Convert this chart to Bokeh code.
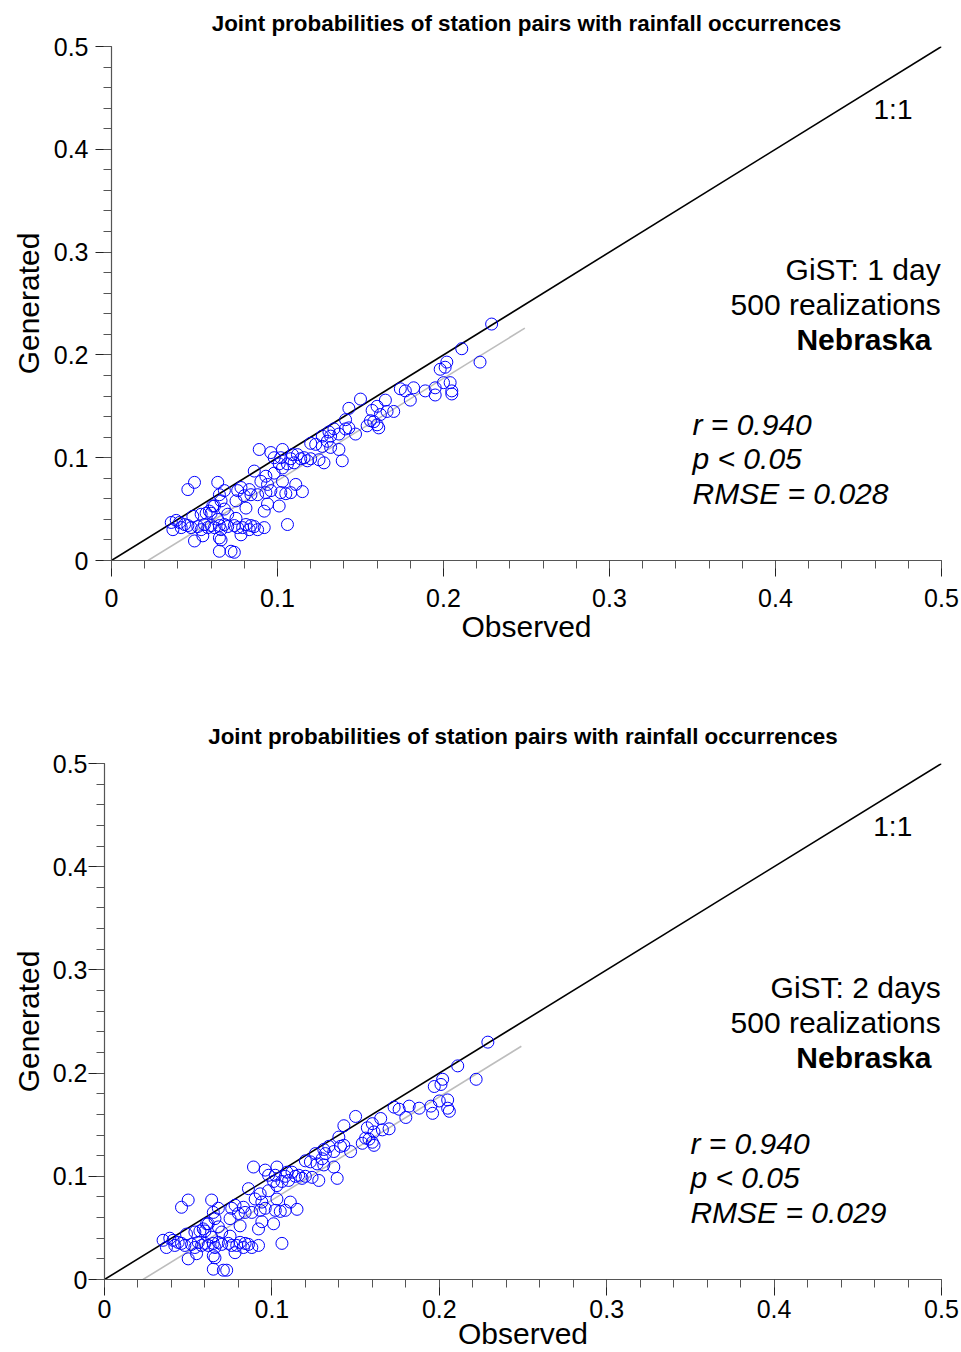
from bokeh.plotting import figure
from bokeh.layouts import column, row
from bokeh.models import Range1d, FixedTicker, CustomJSTickFormatter, Label, ColumnDataSource
from bokeh.embed import file_html
from bokeh.resources import INLINE

# ---- values -------------------------------------------------------------
title_text = "Joint probabilities of station pairs with rainfall occurrences"
major_ticks = [0.0, 0.1, 0.2, 0.3, 0.4, 0.5]
minor_ticks = [round(0.02 * i, 2) for i in range(26)]

# GiST 1 day: observed vs generated joint probabilities
obs_1day = [0.229, 0.211, 0.222, 0.202, 0.201, 0.198, 0.204, 0.205, 0.205, 0.200,
            0.195, 0.195, 0.189, 0.182, 0.180, 0.177, 0.174, 0.150, 0.143, 0.165,
            0.160, 0.157, 0.170, 0.166, 0.162, 0.156, 0.160, 0.161, 0.154, 0.158,
            0.147, 0.141, 0.141, 0.143, 0.134, 0.132, 0.127, 0.123, 0.127, 0.132,
            0.137, 0.130, 0.139, 0.128, 0.125, 0.118, 0.116, 0.112, 0.110, 0.106,
            0.103, 0.102, 0.096, 0.098, 0.089, 0.101, 0.103, 0.086, 0.098, 0.093,
            0.090, 0.094, 0.103, 0.111, 0.115, 0.108, 0.105, 0.102, 0.096, 0.093,
            0.088, 0.084, 0.094, 0.101, 0.092, 0.106, 0.078, 0.076, 0.075, 0.081,
            0.068, 0.064, 0.066, 0.062, 0.059, 0.054, 0.050, 0.046, 0.065, 0.060,
            0.049, 0.057, 0.061, 0.036, 0.039, 0.037, 0.042, 0.041, 0.048, 0.052,
            0.054, 0.058, 0.062, 0.065, 0.066, 0.074, 0.076, 0.079, 0.081, 0.083,
            0.088, 0.092, 0.078, 0.075, 0.065, 0.066, 0.050, 0.055, 0.065, 0.072,
            0.074, 0.044, 0.046, 0.056, 0.060, 0.068, 0.070, 0.084, 0.086, 0.070,
            0.064, 0.068, 0.109, 0.114, 0.120, 0.108, 0.131, 0.137, 0.120, 0.083,
            0.080]
gen_1day = [0.230, 0.206, 0.193, 0.193, 0.188, 0.186, 0.173, 0.165, 0.162, 0.173,
            0.168, 0.161, 0.165, 0.168, 0.156, 0.165, 0.167, 0.157, 0.148, 0.156,
            0.150, 0.146, 0.145, 0.145, 0.142, 0.136, 0.132, 0.129, 0.131, 0.135,
            0.123, 0.137, 0.128, 0.129, 0.128, 0.121, 0.121, 0.113, 0.111, 0.110,
            0.108, 0.116, 0.097, 0.095, 0.098, 0.097, 0.100, 0.103, 0.095, 0.094,
            0.108, 0.100, 0.105, 0.100, 0.108, 0.094, 0.090, 0.087, 0.085, 0.082,
            0.077, 0.074, 0.077, 0.074, 0.067, 0.066, 0.065, 0.066, 0.068, 0.066,
            0.064, 0.064, 0.055, 0.053, 0.048, 0.035, 0.071, 0.068, 0.058, 0.051,
            0.068, 0.076, 0.058, 0.053, 0.048, 0.045, 0.076, 0.069, 0.064, 0.046,
            0.043, 0.046, 0.053, 0.037, 0.039, 0.030, 0.032, 0.037, 0.032, 0.033,
            0.030, 0.032, 0.032, 0.034, 0.030, 0.034, 0.032, 0.032, 0.035, 0.030,
            0.030, 0.032, 0.025, 0.041, 0.022, 0.020, 0.019, 0.024, 0.009, 0.009,
            0.008, 0.035, 0.034, 0.035, 0.034, 0.035, 0.033, 0.034, 0.033, 0.045,
            0.040, 0.050, 0.103, 0.099, 0.099, 0.099, 0.125, 0.123, 0.114, 0.069,
            0.063]

# GiST 2 days: observed vs generated joint probabilities
obs_2day = [0.229, 0.211, 0.222, 0.202, 0.201, 0.197, 0.205, 0.205, 0.206, 0.200,
            0.195, 0.196, 0.188, 0.182, 0.180, 0.176, 0.173, 0.150, 0.143, 0.165,
            0.160, 0.157, 0.170, 0.166, 0.161, 0.156, 0.160, 0.161, 0.154, 0.158,
            0.147, 0.140, 0.141, 0.143, 0.134, 0.132, 0.126, 0.123, 0.127, 0.131,
            0.137, 0.130, 0.139, 0.128, 0.124, 0.118, 0.116, 0.112, 0.110, 0.106,
            0.103, 0.102, 0.096, 0.098, 0.089, 0.101, 0.103, 0.086, 0.098, 0.093,
            0.090, 0.094, 0.103, 0.111, 0.115, 0.108, 0.105, 0.102, 0.096, 0.093,
            0.088, 0.084, 0.094, 0.101, 0.092, 0.106, 0.078, 0.076, 0.075, 0.081,
            0.068, 0.064, 0.066, 0.062, 0.059, 0.054, 0.050, 0.046, 0.065, 0.060,
            0.049, 0.057, 0.061, 0.035, 0.039, 0.037, 0.042, 0.041, 0.048, 0.052,
            0.054, 0.058, 0.062, 0.065, 0.066, 0.074, 0.076, 0.079, 0.081, 0.083,
            0.088, 0.092, 0.078, 0.075, 0.065, 0.066, 0.050, 0.055, 0.065, 0.071,
            0.073, 0.044, 0.046, 0.056, 0.060, 0.068, 0.070, 0.084, 0.086, 0.070,
            0.064, 0.068, 0.109, 0.114, 0.120, 0.108, 0.131, 0.137, 0.120, 0.083,
            0.080]
gen_2day = [0.230, 0.207, 0.194, 0.194, 0.189, 0.187, 0.174, 0.166, 0.163, 0.173,
            0.168, 0.161, 0.166, 0.168, 0.157, 0.165, 0.167, 0.158, 0.149, 0.156,
            0.151, 0.147, 0.146, 0.145, 0.143, 0.137, 0.133, 0.130, 0.132, 0.136,
            0.124, 0.138, 0.129, 0.130, 0.129, 0.122, 0.122, 0.114, 0.112, 0.111,
            0.109, 0.117, 0.098, 0.096, 0.099, 0.098, 0.101, 0.104, 0.096, 0.095,
            0.109, 0.101, 0.106, 0.101, 0.109, 0.095, 0.091, 0.088, 0.086, 0.083,
            0.078, 0.075, 0.078, 0.075, 0.068, 0.067, 0.066, 0.067, 0.069, 0.067,
            0.065, 0.065, 0.056, 0.054, 0.049, 0.035, 0.072, 0.069, 0.059, 0.052,
            0.069, 0.077, 0.059, 0.054, 0.049, 0.046, 0.077, 0.070, 0.065, 0.047,
            0.044, 0.047, 0.054, 0.038, 0.040, 0.031, 0.033, 0.038, 0.033, 0.034,
            0.031, 0.033, 0.033, 0.035, 0.031, 0.035, 0.033, 0.033, 0.036, 0.031,
            0.031, 0.033, 0.026, 0.042, 0.023, 0.021, 0.020, 0.025, 0.010, 0.009,
            0.009, 0.036, 0.035, 0.036, 0.035, 0.036, 0.034, 0.035, 0.034, 0.046,
            0.041, 0.051, 0.104, 0.100, 0.100, 0.100, 0.126, 0.124, 0.115, 0.070,
            0.064]

# least-squares fit line end points (observed, generated)
fit_1day_x = [0.022, 0.249]
fit_1day_y = [0.000, 0.226]
fit_2day_x = [0.023, 0.249]
fit_2day_y = [0.000, 0.226]

# 1:1 reference line
one_to_one = [0.0, 0.5]

panels = [
    dict(obs=obs_1day, gen=gen_1day, fx=fit_1day_x, fy=fit_1day_y,
         label="GiST: 1 day", r="r = 0.940", p="p < 0.05", rmse="RMSE = 0.028"),
    dict(obs=obs_2day, gen=gen_2day, fx=fit_2day_x, fy=fit_2day_y,
         label="GiST: 2 days", r="r = 0.940", p="p < 0.05", rmse="RMSE = 0.029"),
]

FONT = "Liberation Sans"


def make_panel(d, height, left, top, bottom, x_std, x_lab_std, y_std, y_lab_std,
               title_valign, title_standoff):
    p = figure(width=961, height=height, output_backend="svg", toolbar_location=None,
               x_range=Range1d(0, 0.5), y_range=Range1d(0, 0.5),
               min_border_left=left, min_border_right=20,
               min_border_top=top, min_border_bottom=bottom,
               title=title_text)
    p.outline_line_color = None
    p.grid.visible = False
    p.background_fill_color = "white"
    p.border_fill_color = "white"

    p.title.align = "center"
    p.title.text_font = FONT
    p.title.text_font_size = "22.4px"
    p.title.text_font_style = "bold"
    p.title.text_color = "black"
    p.title.vertical_align = title_valign
    p.title.standoff = title_standoff

    fmt = CustomJSTickFormatter(code="return tick == 0 ? '0' : tick.toFixed(1);")
    for ax in (p.xaxis[0], p.yaxis[0]):
        ax.ticker = FixedTicker(ticks=major_ticks, minor_ticks=minor_ticks)
        ax.formatter = fmt
        ax.axis_line_color = "#555555"
        ax.axis_line_width = 1.2
        ax.major_tick_line_color = "#222222"
        ax.minor_tick_line_color = "#555555"
        ax.major_tick_in = 0
        ax.minor_tick_in = 0
        ax.major_tick_out = 16
        ax.minor_tick_out = 8
        ax.major_label_text_font = FONT
        ax.major_label_text_font_size = "25px"
        ax.major_label_text_color = "black"
        ax.axis_label_text_font = FONT
        ax.axis_label_text_font_size = "30px"
        ax.axis_label_text_font_style = "normal"
        ax.axis_label_text_color = "black"
    p.xaxis.axis_label = "Observed"
    p.yaxis.axis_label = "Generated"
    p.xaxis.major_label_standoff = x_std
    p.xaxis.axis_label_standoff = x_lab_std
    p.yaxis.major_label_standoff = y_std
    p.yaxis.axis_label_standoff = y_lab_std

    # 1:1 line and fitted line
    p.line(one_to_one, one_to_one, line_color="black", line_width=1.6)
    p.line(d["fx"], d["fy"], line_color="#BDBDBD", line_width=1.6)

    src = ColumnDataSource(dict(x=d["obs"], y=d["gen"]))
    p.scatter("x", "y", source=src, marker="circle", size=12,
              fill_color=None, line_color="#0000FF", line_width=1)

    p.add_layout(Label(x=0.4825, y=0.439, text="1:1", text_align="right",
                       text_baseline="middle", text_font=FONT,
                       text_font_size="28px", text_color="black"))
    p.add_layout(Label(x=0.4995, y=0.283, text=d["label"], text_align="right",
                       text_baseline="middle", text_font=FONT,
                       text_font_size="30px", text_color="black"))
    p.add_layout(Label(x=0.4995, y=0.249, text="500 realizations", text_align="right",
                       text_baseline="middle", text_font=FONT,
                       text_font_size="30px", text_color="black"))
    p.add_layout(Label(x=0.494, y=0.215, text="Nebraska", text_align="right",
                       text_baseline="middle", text_font=FONT,
                       text_font_size="30px", text_font_style="bold",
                       text_color="black"))
    for txt, yy in ((d["r"], 0.132), (d["p"], 0.099), (d["rmse"], 0.065)):
        p.add_layout(Label(x=0.350, y=yy, text=txt, text_align="left",
                           text_baseline="middle", text_font=FONT,
                           text_font_size="30px", text_font_style="italic",
                           text_color="black"))
    return p


p1 = make_panel(panels[0], 680, 111, 46, 120, 12, 0, 7, 6, "top", 18)
p2 = make_panel(panels[1], 672, 104, 83, 73, 4, -4, 1, 5, "bottom", 29)

# each panel in its own row so their frames are laid out independently
layout = column(row(p1), row(p2), spacing=0)
open("out.html", "w").write(file_html(layout, INLINE))
